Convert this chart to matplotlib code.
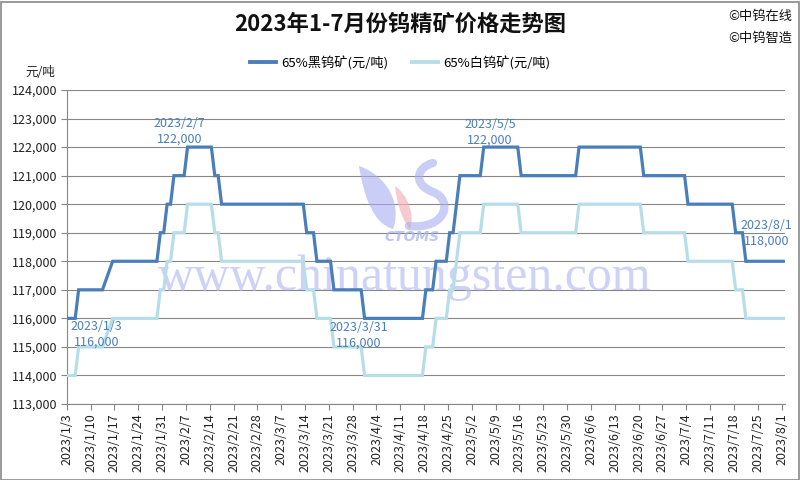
import datetime as dt
import matplotlib
matplotlib.use('Agg')
import matplotlib.pyplot as plt
import matplotlib.dates as mdates
from matplotlib.patches import Rectangle, PathPatch
from matplotlib.path import Path
from matplotlib.lines import Line2D

plt.rcParams['font.family'] = ['Noto Sans CJK SC', 'DejaVu Sans']

# ---------------- data ----------------
title = '2023年1-7月份钨精矿价格走势图'
unit_label = '元/吨'
series_names = ['65%黑钨矿(元/吨)', '65%白钨矿(元/吨)']
credits = ['©中钨在线', '©中钨智造']

wolframite_dates = ['2023/1/3', '2023/1/5', '2023/1/6', '2023/1/13', '2023/1/16', '2023/1/29',
                    '2023/1/30', '2023/1/31', '2023/2/1', '2023/2/2', '2023/2/3', '2023/2/6',
                    '2023/2/7', '2023/2/14', '2023/2/15', '2023/2/16', '2023/2/17', '2023/3/13',
                    '2023/3/14', '2023/3/16', '2023/3/17', '2023/3/21', '2023/3/22', '2023/3/30',
                    '2023/3/31', '2023/4/17', '2023/4/18', '2023/4/20', '2023/4/21', '2023/4/24',
                    '2023/4/25', '2023/4/26', '2023/4/27', '2023/4/28', '2023/5/4', '2023/5/5',
                    '2023/5/15', '2023/5/16', '2023/6/1', '2023/6/2', '2023/6/20', '2023/6/21',
                    '2023/7/3', '2023/7/4', '2023/7/17', '2023/7/18', '2023/7/20', '2023/7/21',
                    '2023/8/1']
wolframite_prices = [116000, 116000, 117000, 117000, 118000, 118000,
                     119000, 119000, 120000, 120000, 121000, 121000,
                     122000, 122000, 121000, 121000, 120000, 120000,
                     119000, 119000, 118000, 118000, 117000, 117000,
                     116000, 116000, 117000, 117000, 118000, 118000,
                     119000, 119000, 120000, 121000, 121000, 122000,
                     122000, 121000, 121000, 122000, 122000, 121000,
                     121000, 120000, 120000, 119000, 119000, 118000,
                     118000]

scheelite_dates = list(wolframite_dates)
scheelite_prices = [114000, 114000, 115000, 115000, 116000, 116000,
                    117000, 117000, 118000, 118000, 119000, 119000,
                    120000, 120000, 119000, 119000, 118000, 118000,
                    117000, 117000, 116000, 116000, 115000, 115000,
                    114000, 114000, 115000, 115000, 116000, 116000,
                    117000, 117000, 118000, 119000, 119000, 120000,
                    120000, 119000, 119000, 120000, 120000, 119000,
                    119000, 118000, 118000, 117000, 117000, 116000,
                    116000]

tick_labels = ['2023/1/3', '2023/1/10', '2023/1/17', '2023/1/24', '2023/1/31', '2023/2/7',
               '2023/2/14', '2023/2/21', '2023/2/28', '2023/3/7', '2023/3/14', '2023/3/21',
               '2023/3/28', '2023/4/4', '2023/4/11', '2023/4/18', '2023/4/25', '2023/5/2',
               '2023/5/9', '2023/5/16', '2023/5/23', '2023/5/30', '2023/6/6', '2023/6/13',
               '2023/6/20', '2023/6/27', '2023/7/4', '2023/7/11', '2023/7/18', '2023/7/25',
               '2023/8/1']
x_start, x_end = '2023/1/3', '2023/8/2'
y_ticks = [113000, 114000, 115000, 116000, 117000, 118000, 119000,
           120000, 121000, 122000, 123000, 124000]

# (date, value, offset in points dx, dy)
labelled_points = [('2023/1/3', 116000, 20, -11.5),
                   ('2023/2/7', 122000, -6, 11.2),
                   ('2023/3/31', 116000, -4, -12.2),
                   ('2023/5/5', 122000, 4.5, 10.6),
                   ('2023/8/1', 118000, -12, 20.2)]

watermark = 'www.chinatungsten.com'
logo_text = 'CTOMS'

dark_color = '#4A7EBB'
light_color = '#B7DEE8'
grid_color = '#868686'


def to_num(s):
    return mdates.date2num(dt.datetime.strptime(s, '%Y/%m/%d'))


W, H = 800, 480
fig = plt.figure(figsize=(W / 100, H / 100), dpi=100)
fig.patch.set_facecolor('white')

L, R, T, B = 66.7, 785, 90, 404
ax = fig.add_axes([L / W, (H - B) / H, (R - L) / W, (B - T) / H])


def ax_xy(x, y):
    return ((x - L) / (R - L), (B - y) / (B - T))


def px_path(pts):
    return [ax_xy(x, y) for x, y in pts]


# watermark (behind lines)
ax.text(*ax_xy(405, 290), watermark, transform=ax.transAxes,
        family='Liberation Serif', fontsize=36, color='#b3baf2', alpha=0.65,
        ha='center', va='baseline', zorder=1)
ax.text(*ax_xy(412, 237), logo_text, transform=ax.transAxes,
        family='DejaVu Sans', fontsize=10, fontweight='bold', style='italic',
        color='#a9b2f2', alpha=0.75, ha='center', va='center', zorder=1)

codes = [Path.MOVETO, Path.CURVE4, Path.CURVE4, Path.CURVE4,
         Path.CURVE4, Path.CURVE4, Path.CURVE4, Path.CLOSEPOLY]
left_swoosh = px_path([(359, 166), (388, 176), (402, 205), (393, 229),
                       (374, 224), (364, 198), (359, 166), (359, 166)])
ax.add_patch(PathPatch(Path(left_swoosh, codes), transform=ax.transAxes,
                       facecolor='#a7aef0', edgecolor='none', alpha=0.6, zorder=1))
pink = px_path([(395, 186), (408, 195), (415, 215), (410, 229),
                (401, 218), (397, 203), (395, 186), (395, 186)])
ax.add_patch(PathPatch(Path(pink, codes), transform=ax.transAxes,
                       facecolor='#f5b3bd', edgecolor='none', alpha=0.7, zorder=1))
s_codes = [Path.MOVETO, Path.CURVE4, Path.CURVE4, Path.CURVE4,
           Path.CURVE4, Path.CURVE4, Path.CURVE4]
s_shape = px_path([(409, 226), (446, 230), (454, 200), (433, 192),
                   (412, 184), (417, 167), (433, 163)])
ax.add_patch(PathPatch(Path(s_shape, s_codes), transform=ax.transAxes,
                       facecolor='none', edgecolor='#a7aef0', lw=6, alpha=0.6,
                       capstyle='round', zorder=1))

xw = [to_num(s) + 0.5 for s in wolframite_dates]
xs = [to_num(s) + 0.5 for s in scheelite_dates]
ax.plot(xw, wolframite_prices, color=dark_color, lw=2.3, zorder=4,
        solid_joinstyle='miter', label=series_names[0])
ax.plot(xs, scheelite_prices, color=light_color, lw=2.3, zorder=3,
        solid_joinstyle='miter', label=series_names[1])

for d, v, dx, dy in labelled_points:
    ax.annotate(f'{d}\n{v:,}', xy=(to_num(d) + 0.5, v), xytext=(dx, dy),
                textcoords='offset points', ha='center', va='center',
                fontsize=9, color=dark_color, linespacing=1.25, zorder=5)

ax.set_xlim(to_num(x_start), to_num(x_end))
ax.set_ylim(y_ticks[0], y_ticks[-1])
ax.set_xticks([to_num(s) for s in tick_labels])
ax.set_xticklabels(tick_labels, rotation=90, fontsize=9, color='#222222')
ax.set_yticks(y_ticks)
ax.set_yticklabels([f'{v:,}' for v in y_ticks], fontsize=9, color='#222222')
ax.tick_params(axis='both', direction='out', length=4, width=0.8, color=grid_color)
ax.tick_params(axis='y', pad=3)
ax.tick_params(axis='x', pad=3)
ax.grid(axis='y', color=grid_color, lw=0.8, zorder=0)
ax.set_axisbelow(True)
for s in ['top', 'right']:
    ax.spines[s].set_visible(False)
for s in ['left', 'bottom']:
    ax.spines[s].set_color(grid_color)
    ax.spines[s].set_linewidth(0.8)

fig.text(400 / W, 1 - 24 / H, title, fontsize=16, fontweight='bold',
         ha='center', va='center', color='#111111')
fig.text(728 / W, 1 - 16 / H, credits[0], fontsize=9.5, ha='left', va='center', color='#111111')
fig.text(728 / W, 1 - 38 / H, credits[1], fontsize=9.5, ha='left', va='center', color='#111111')
fig.text(25 / W, 1 - 72 / H, unit_label, fontsize=9, ha='left', va='center', color='#222222')

handles = [Line2D([], [], color=dark_color, lw=2.8), Line2D([], [], color=light_color, lw=2.8)]
fig.legend(handles, series_names, loc='center', bbox_to_anchor=(400 / W, 1 - 63 / H),
           ncol=2, frameon=False, fontsize=9.5, handlelength=2.0,
           handletextpad=0.35, columnspacing=1.8)

fig.add_artist(Rectangle((0.5 / W, 0.5 / H), 1 - 2 / W, 1 - 2 / H, transform=fig.transFigure,
                         fill=False, edgecolor='#8a8a8a', lw=1.2))

fig.savefig('out.png', dpi=100)
